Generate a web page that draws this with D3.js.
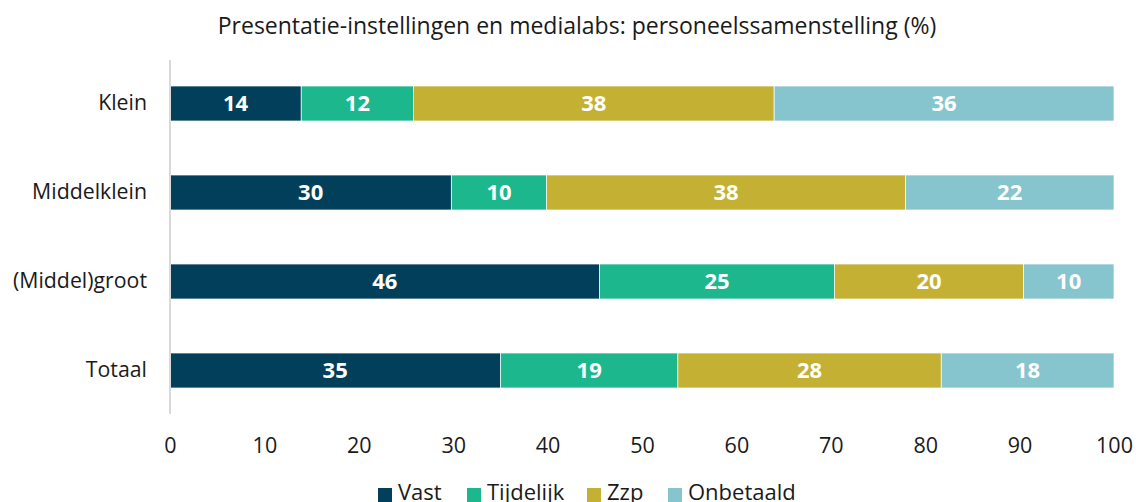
<!DOCTYPE html>
<html>
<head>
<meta charset="utf-8">
<script src="https://cdn.jsdelivr.net/npm/d3@7"></script>
<style>
  html, body { margin: 0; padding: 0; background: #fff; }
  svg { display: block; font-family: "Open Sans", sans-serif; }
</style>
</head>
<body>
<svg id="chart" width="1136" height="502"></svg>
<script>
// Staff composition per organisation size (% of staff)
const categories = ["Klein", "Middelklein", "(Middel)groot", "Totaal"];
const seriesNames = ["Vast", "Tijdelijk", "Zzp", "Onbetaald"];
const vast      = [13.9, 29.8, 45.5, 35.0];
const tijdelijk = [11.9, 10.1, 24.9, 18.8];
const zzp       = [38.2, 38.0, 20.0, 27.9];
const onbetaald = [36.0, 22.1,  9.6, 18.3];
const xTicks = [0, 10, 20, 30, 40, 50, 60, 70, 80, 90, 100];
const colors = ["#023f5a", "#1cb78c", "#c4b134", "#86c4ce"];
const title = "Presentatie-instellingen en medialabs: personeelssamenstelling (%)";

const FONT = "'Open Sans', sans-serif";

const seriesValues = [vast, tijdelijk, zzp, onbetaald];
const rows = categories.map((c, i) => {
  const r = { category: c };
  seriesNames.forEach((s, j) => { r[s] = seriesValues[j][i]; });
  return r;
});

const svg = d3.select("#chart");
const margin = { left: 170, right: 22, top: 59, bottom: 87 };
const width = 1136, height = 502;

const x = d3.scaleLinear().domain([0, 100]).range([margin.left, width - margin.right]);
const y = d3.scaleBand().domain(categories)
  .range([margin.top, height - margin.bottom])
  .paddingInner(0.607).paddingOuter(0.3035);

const stacked = d3.stack().keys(seriesNames)(rows);
const color = d3.scaleOrdinal().domain(seriesNames).range(colors);

// title
svg.append("text")
  .attr("x", 577).attr("y", 34)
  .attr("text-anchor", "middle")
  .attr("font-size", 23).attr("fill", "#1a1a1a")
  .text(title);

// bars
const layers = svg.append("g").selectAll("g")
  .data(stacked).join("g")
  .attr("fill", d => color(d.key));

layers.selectAll("rect")
  .data(d => d).join("rect")
  .attr("x", d => x(d[0]))
  .attr("y", d => y(d.data.category))
  .attr("width", d => x(d[1]) - x(d[0]))
  .attr("height", y.bandwidth())
  .attr("stroke", "#fff").attr("stroke-width", 0.7);

// value labels
layers.selectAll("text")
  .data(d => d).join("text")
  .attr("x", d => (x(d[0]) + x(d[1])) / 2)
  .attr("y", d => y(d.data.category) + y.bandwidth() / 2)
  .attr("dy", "0.36em")
  .attr("text-anchor", "middle")
  .attr("font-size", 22).attr("font-weight", 700)
  .attr("fill", "#fff")
  .text(d => Math.round(d[1] - d[0] + 1e-9));

// category axis (left)
const yAxis = svg.append("g")
  .attr("transform", `translate(${margin.left},0)`)
  .call(d3.axisLeft(y).tickSize(0).tickPadding(23));
yAxis.select(".domain").attr("stroke", "#d9d9d9").attr("stroke-width", 2)
  .attr("d", `M0,${margin.top + 1}V${height - margin.bottom - 1}`);
yAxis.selectAll("text").attr("font-size", 21.3).attr("fill", "#1a1a1a")
  .attr("font-family", FONT);

// value axis (bottom), ticks only
const xAxis = svg.append("g")
  .attr("transform", `translate(0,${height - margin.bottom})`)
  .call(d3.axisBottom(x).tickValues(xTicks).tickSize(0).tickPadding(22.5).tickFormat(d3.format("d")));
xAxis.select(".domain").remove();
xAxis.selectAll("text").attr("font-size", 21.5).attr("fill", "#1a1a1a")
  .attr("font-family", FONT);

// legend
const legendX = [378, 467, 587, 668];
const legend = svg.append("g").selectAll("g")
  .data(seriesNames).join("g")
  .attr("transform", (d, i) => `translate(${legendX[i]},500)`);
legend.append("rect")
  .attr("x", 0).attr("y", -12).attr("width", 14).attr("height", 14)
  .attr("fill", d => color(d));
legend.append("text")
  .attr("x", 20).attr("y", 0)
  .attr("font-size", 22).attr("fill", "#1a1a1a")
  .text(d => d);
</script>
</body>
</html>
